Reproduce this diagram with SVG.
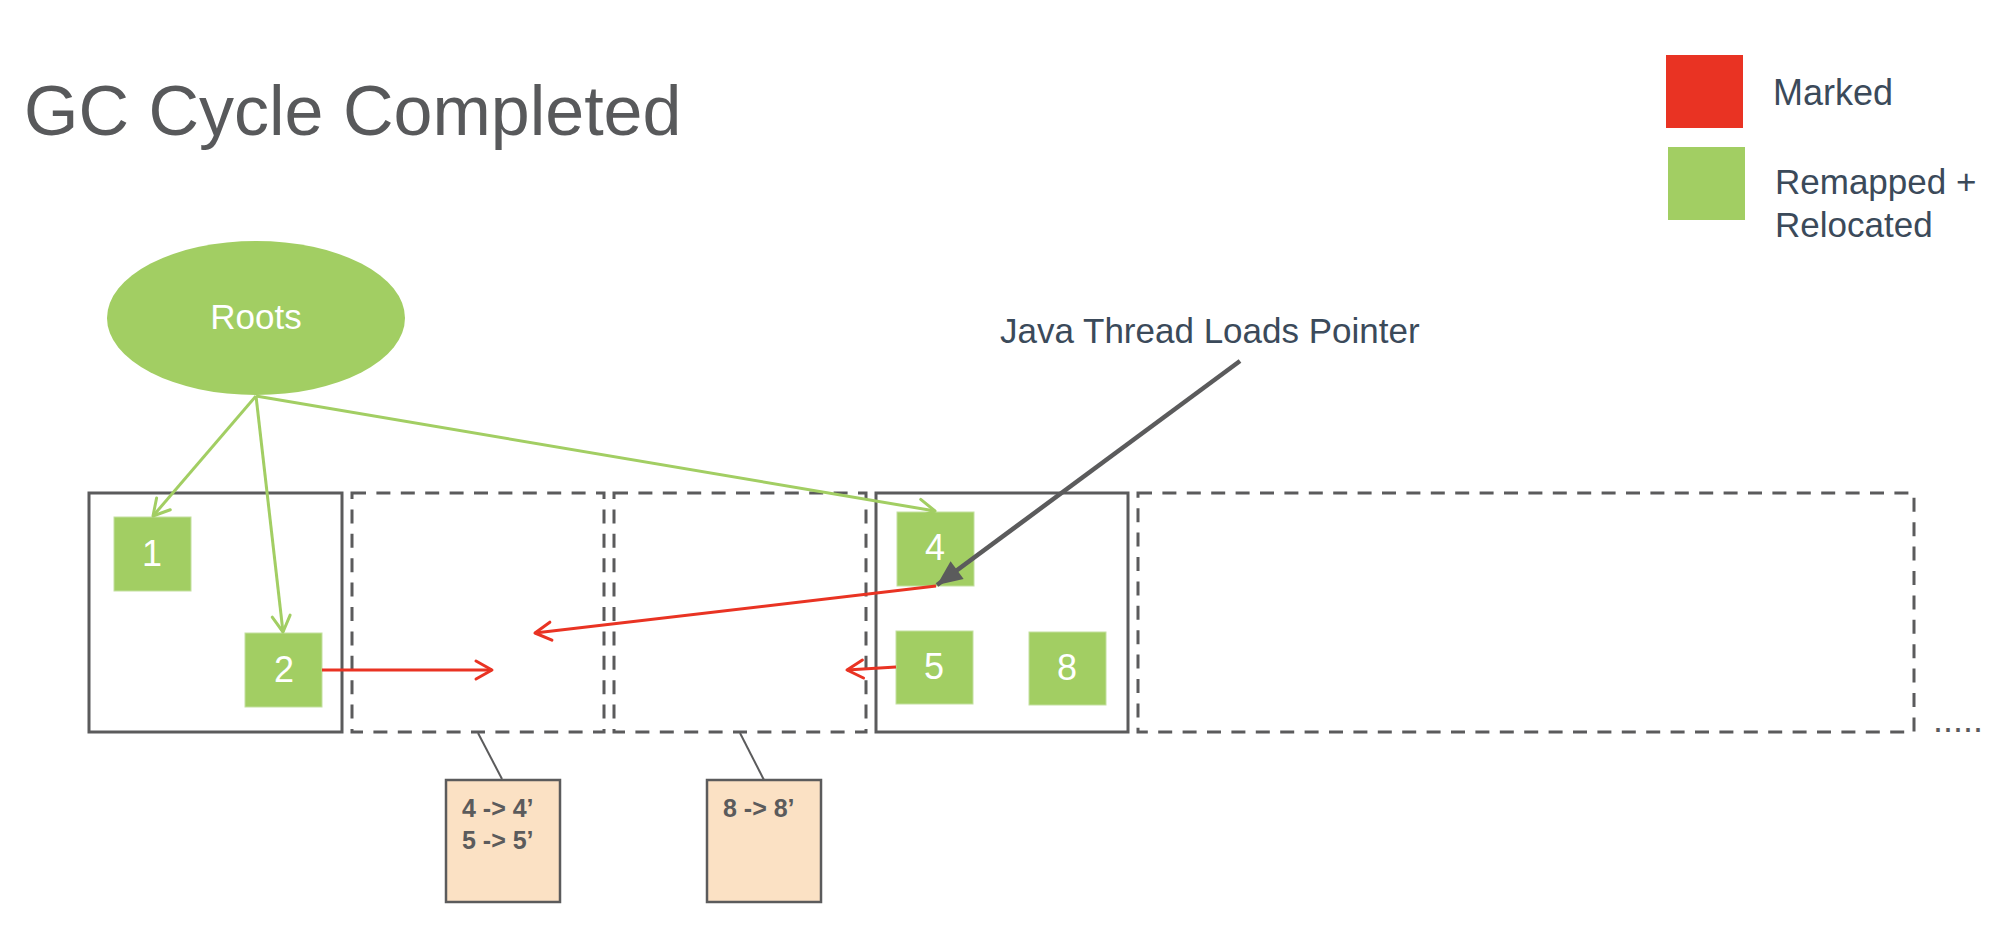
<svg xmlns="http://www.w3.org/2000/svg" width="2014" height="926" viewBox="0 0 2014 926">
  <defs>
    <style>
      .t{font-family:"Liberation Sans",Arial,sans-serif}
      .title{font-size:70px;fill:#58595B}
      .dark{fill:#3B4A5A}
      .region{fill:none;stroke:#5B5B5C;stroke-width:3}
      .dashed{stroke-dasharray:14 10.4}
      .obj{fill:#A2CE63;stroke:#C3E0A0;stroke-width:1}
      .lbl{font-size:36px;fill:#FFFFFF;text-anchor:middle}
      .green{stroke:#A2CE63;stroke-width:3;fill:none}
      .red{stroke:#E93323;stroke-width:3;fill:none}
      .gray{stroke:#5B5B5C;stroke-width:4.5;fill:none}
      .note{fill:#FBE1C4;stroke:#5B5B5C;stroke-width:2.5}
      .notetxt{font-size:25px;font-weight:bold;fill:#5B5B5C}
      .lead{stroke:#5B5B5C;stroke-width:2;fill:none}
    </style>
    <marker id="ag" markerUnits="userSpaceOnUse" viewBox="-20 -12 24 24" refX="0" refY="0" markerWidth="24" markerHeight="24" orient="auto">
      <path d="M-16,-9 L0,0 L-16,9" fill="none" stroke="#A2CE63" stroke-width="3" stroke-linecap="round" stroke-linejoin="round"/>
    </marker>
    <marker id="ar" markerUnits="userSpaceOnUse" viewBox="-20 -12 24 24" refX="0" refY="0" markerWidth="24" markerHeight="24" orient="auto">
      <path d="M-16,-9 L0,0 L-16,9" fill="none" stroke="#E93323" stroke-width="3" stroke-linecap="round" stroke-linejoin="round"/>
    </marker>
    <marker id="ak" markerUnits="userSpaceOnUse" viewBox="-28 -14 30 28" refX="0" refY="0" markerWidth="30" markerHeight="28" orient="auto">
      <path d="M0,0 L-25,-11 L-25,11 Z" fill="#5B5B5C"/>
    </marker>
  </defs>

  <rect width="2014" height="926" fill="#FFFFFF"/>

  <text class="t title" x="24" y="135">GC Cycle Completed</text>

  <g id="legend">
    <rect x="1666" y="55" width="77" height="73" fill="#E93323"/>
    <text class="t dark" x="1773" y="105" font-size="36">Marked</text>
    <rect x="1668" y="147" width="77" height="73" fill="#A2CE63"/>
    <text class="t dark" x="1775" y="194" font-size="35">Remapped +</text>
    <text class="t dark" x="1775" y="237" font-size="35">Relocated</text>
  </g>

  <g id="region1"><rect class="region" x="89" y="493" width="253" height="239"/></g>
  <g id="region2"><rect class="region dashed" x="352" y="493" width="252" height="239"/></g>
  <g id="region3"><rect class="region dashed" x="614" y="493" width="252" height="239"/></g>
  <g id="region4"><rect class="region" x="876" y="493" width="252" height="239"/></g>
  <g id="region5"><rect class="region dashed" x="1138" y="493" width="776" height="239"/></g>
  <text class="t" x="1933" y="732" font-size="36" fill="#5B5B5C">.....</text>

  <g id="roots">
    <ellipse cx="256" cy="318" rx="149" ry="77" fill="#A2CE63"/>
    <text class="t" x="256" y="329" font-size="35" fill="#FFFFFF" text-anchor="middle">Roots</text>
  </g>

  <g id="obj1"><rect class="obj" x="114" y="517" width="77" height="74"/><text class="t lbl" x="152" y="566">1</text></g>
  <g id="obj2"><rect class="obj" x="245" y="633" width="77" height="74"/><text class="t lbl" x="284" y="682">2</text></g>
  <g id="obj4"><rect class="obj" x="897" y="512" width="77" height="74"/><text class="t lbl" x="935" y="560">4</text></g>
  <g id="obj5"><rect class="obj" x="896" y="631" width="77" height="73"/><text class="t lbl" x="934" y="679">5</text></g>
  <g id="obj8"><rect class="obj" x="1029" y="632" width="77" height="73"/><text class="t lbl" x="1067" y="680">8</text></g>

  <g id="fwd-table-1">
    <line class="lead" x1="478" y1="733" x2="502" y2="779"/>
    <rect class="note" x="446" y="780" width="114" height="122"/>
    <text class="t notetxt" x="462" y="817">4 -&gt; 4’</text>
    <text class="t notetxt" x="462" y="849">5 -&gt; 5’</text>
  </g>
  <g id="fwd-table-2">
    <line class="lead" x1="740" y1="733" x2="764" y2="780"/>
    <rect class="note" x="707" y="780" width="114" height="122"/>
    <text class="t notetxt" x="723" y="817">8 -&gt; 8’</text>
  </g>

  <g id="java-thread">
    <text class="t dark" x="1000" y="343" font-size="35">Java Thread Loads Pointer</text>
  </g>

  <g id="connectors">
    <line class="green" x1="256" y1="396" x2="153" y2="516" marker-end="url(#ag)"/>
    <line class="green" x1="256" y1="396" x2="283" y2="632" marker-end="url(#ag)"/>
    <line class="green" x1="256" y1="396" x2="935" y2="511" marker-end="url(#ag)"/>
    <line class="red" x1="322" y1="670" x2="492" y2="670" marker-end="url(#ar)"/>
    <line class="red" x1="936" y1="586" x2="535" y2="633" marker-end="url(#ar)"/>
    <line class="red" x1="896" y1="667" x2="847" y2="670" marker-end="url(#ar)"/>
    <line class="gray" x1="1240" y1="361" x2="937" y2="585" marker-end="url(#ak)"/>
  </g>
</svg>
